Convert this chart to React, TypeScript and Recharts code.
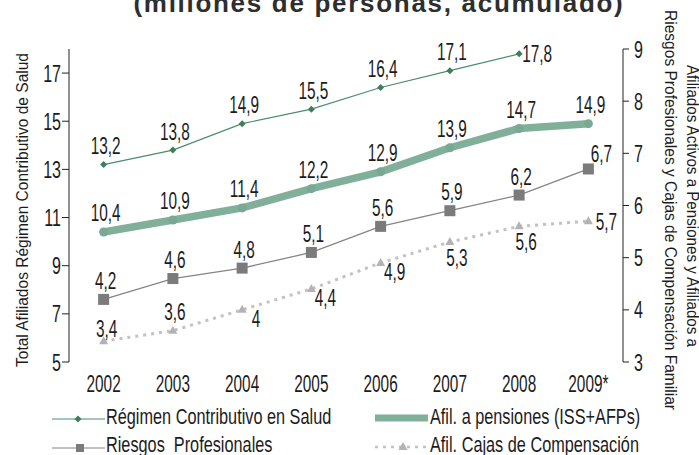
import React from 'react'
import { LineChart, Line, XAxis, YAxis, Legend, LabelList, Customized } from 'recharts'

const YEARS = ['2002', '2003', '2004', '2005', '2006', '2007', '2008', '2009*']
const REGIMEN = [13.2, 13.8, 14.9, 15.5, 16.4, 17.1, 17.8, null]
const PENSIONES = [10.4, 10.9, 11.4, 12.2, 12.9, 13.9, 14.7, 14.9]
const RIESGOS = [4.2, 4.6, 4.8, 5.1, 5.6, 5.9, 6.2, 6.7]
const CAJAS = [3.4, 3.6, 4, 4.4, 4.9, 5.3, 5.6, 5.7]
const LEFT_TICKS = [5, 7, 9, 11, 13, 15, 17]
const RIGHT_TICKS = [3, 4, 5, 6, 7, 8, 9]

const data = YEARS.map((year, i) => ({
  x: i + 0.5,
  year,
  regimen: REGIMEN[i],
  pensiones: PENSIONES[i],
  riesgos: RIESGOS[i],
  cajas: CAJAS[i],
}))
const EDGE_TICKS = [...YEARS.map((_, i) => i), YEARS.length]
const MID_TICKS = YEARS.map((_, i) => i + 0.5)

const FONT = "'Liberation Sans', Arial, sans-serif"
const INK = '#1c1c1c'
const C_REGIMEN = '#4d8d6e'
const C_PENS = '#80b09a'
const C_RIESGOS = '#858585'
const C_CAJAS = '#c2c2c2'

// where each value label sits relative to its point
const OFFSETS: Record<string, [number, number]> = {
  above: [2, -19],
  aboveLow: [3, -13],
  aboveRight: [13, -15],
  right: [18, 0],
  below: [7, 15],
  belowRight: [14, 9],
}
const ALL_ABOVE = YEARS.map(() => 'above')
const REGIMEN_POS = ['above', 'above', 'above', 'above', 'above', 'above', 'right', 'above']
const RIESGOS_POS = ['above', 'above', 'above', 'above', 'above', 'above', 'above', 'aboveRight']
const CAJAS_POS = ['aboveLow', 'above', 'belowRight', 'belowRight', 'belowRight', 'below', 'below', 'right']

const fmt = (v: number) => String(v).replace('.', ',')

const makeLabel = (pos: string[]) => (props: any) => {
  const { value, index } = props
  if (value == null) return null
  const x = props.x ?? props.viewBox?.x
  const y = props.y ?? props.viewBox?.y
  const [dx, dy] = OFFSETS[pos[index]] || OFFSETS.above
  return (
    <text
      transform={`translate(${x + dx},${y + dy}) scale(0.64,1)`}
      textAnchor="middle"
      dy={8.5}
      fontSize={24}
      fontFamily={FONT}
      fill={INK}
    >
      {fmt(value)}
    </text>
  )
}

const Diamond = ({ cx, cy }: any) =>
  cy == null ? null : (
    <path d={`M${cx},${cy - 3.5}L${cx + 3.5},${cy}L${cx},${cy + 3.5}L${cx - 3.5},${cy}Z`} fill="#3f7d5f" />
  )
const Square = ({ cx, cy }: any) => <rect x={cx - 5.5} y={cy - 5.5} width={11} height={11} fill="#7b7b7b" />
const Triangle = ({ cx, cy }: any) => (
  <path d={`M${cx},${cy - 5}L${cx + 4.5},${cy + 3}L${cx - 4.5},${cy + 3}Z`} fill="#b3b3b3" />
)

const LeftTick = ({ x, y, payload }: any) => (
  <text transform={`translate(${x},${y}) scale(0.67,1)`} textAnchor="end" dy={8.5} fontSize={24} fontFamily={FONT} fill={INK}>
    {payload.value}
  </text>
)
const RightTick = ({ x, y, payload }: any) => (
  <text transform={`translate(${x},${y}) scale(0.67,1)`} textAnchor="start" dy={8.5} fontSize={24} fontFamily={FONT} fill={INK}>
    {payload.value}
  </text>
)
const YearTick = ({ x, y, payload }: any) => (
  <text transform={`translate(${x},${y}) scale(0.64,1)`} textAnchor="middle" dy={22} fontSize={24} fontFamily={FONT} fill={INK}>
    {YEARS[Math.floor(payload.value)]}
  </text>
)

const LegendText = ({ x, y, children }: any) => (
  <text transform={`translate(${x},${y}) scale(0.74,1)`} fontSize={22} fontFamily={FONT} fill={INK} style={{ whiteSpace: 'pre' }}>
    {children}
  </text>
)

const LegendBox = () => (
  <svg width={699} height={60} style={{ overflow: 'visible', display: 'block' }}>
    <line x1={52} y1={24} x2={105} y2={24} stroke={C_REGIMEN} strokeWidth={1.2} />
    <Diamond cx={78} cy={24} />
    <LegendText x={106} y={29}>Régimen Contributivo en Salud</LegendText>
    <line x1={375} y1={23} x2={428} y2={23} stroke={C_PENS} strokeWidth={7} />
    <LegendText x={430} y={29}>Afil. a pensiones (ISS+AFPs)</LegendText>
    <line x1={52} y1={53} x2={105} y2={53} stroke={C_RIESGOS} strokeWidth={1.2} />
    <rect x={76} y={49} width={8} height={8} fill="#7b7b7b" />
    <LegendText x={106} y={57}>Riesgos  Profesionales</LegendText>
    <line x1={375} y1={52} x2={428} y2={52} stroke={C_CAJAS} strokeWidth={2.5} strokeDasharray="3 5" />
    <Triangle cx={403} cy={52} />
    <LegendText x={430} y={57}>Afil. Cajas de Compensación</LegendText>
  </svg>
)

const Titles = () => (
  <g fontFamily={FONT}>
    <text x={379} y={12} textAnchor="middle" fontSize={26} fontWeight="bold" letterSpacing={1.7} fill="#2e2e2e">
      (millones de personas, acumulado)
    </text>
    <text
      transform="translate(22,210) rotate(-90)"
      textAnchor="middle"
      dy={6}
      fontSize={17}
      fill={INK}
      textLength={314}
      lengthAdjust="spacingAndGlyphs"
    >
      Total Afiliados Régimen Contributivo de Salud
    </text>
    <text
      transform="translate(693,206) rotate(90)"
      textAnchor="middle"
      dy={6}
      fontSize={16}
      fill={INK}
      textLength={282}
      lengthAdjust="spacingAndGlyphs"
    >
      Afiliados Activos a Pensiones y Afiliados a
    </text>
    <text
      transform="translate(671,210) rotate(90)"
      textAnchor="middle"
      dy={6}
      fontSize={16}
      fill={INK}
      textLength={400}
      lengthAdjust="spacingAndGlyphs"
    >
      Riesgos Profesionales y Cajas de Compensación Familiar
    </text>
  </g>
)

export default function App() {
  return (
    <div style={{ position: 'absolute', left: 0, top: 0, background: '#fff' }}>
      <LineChart width={699} height={455} data={data} margin={{ top: 49, right: 0, bottom: 0, left: 0 }}>
        <XAxis
          type="number"
          dataKey="x"
          domain={[0, YEARS.length]}
          ticks={EDGE_TICKS}
          interval={0}
          tick={false}
          tickSize={6}
          height={0}
          stroke="#222"
        />
        <XAxis
          xAxisId="labels"
          type="number"
          dataKey="x"
          domain={[0, YEARS.length]}
          ticks={MID_TICKS}
          interval={0}
          axisLine={false}
          tickLine={false}
          tick={<YearTick />}
          height={33}
        />
        <YAxis
          yAxisId="left"
          domain={[5, 18]}
          ticks={LEFT_TICKS}
          interval={0}
          width={69}
          tickSize={7}
          tickMargin={1}
          tick={<LeftTick />}
          stroke="#222"
        />
        <YAxis
          yAxisId="right"
          orientation="right"
          domain={[3, 9]}
          ticks={RIGHT_TICKS}
          interval={0}
          width={76}
          tickSize={6}
          tickMargin={5}
          tick={<RightTick />}
          stroke="#222"
        />
        <Line
          yAxisId="left"
          dataKey="pensiones"
          stroke={C_PENS}
          strokeWidth={7.5}
          strokeLinecap="round"
          dot={{ r: 4.5, fill: '#79a994', stroke: 'none' }}
          isAnimationActive={false}
        >
          <LabelList dataKey="pensiones" content={makeLabel(ALL_ABOVE)} />
        </Line>
        <Line
          yAxisId="right"
          dataKey="cajas"
          stroke={C_CAJAS}
          strokeWidth={3}
          strokeDasharray="3 5"
          dot={(p: any) => <Triangle key={p.index} {...p} />}
          isAnimationActive={false}
        >
          <LabelList dataKey="cajas" content={makeLabel(CAJAS_POS)} />
        </Line>
        <Line
          yAxisId="right"
          dataKey="riesgos"
          stroke={C_RIESGOS}
          strokeWidth={1.3}
          dot={(p: any) => <Square key={p.index} {...p} />}
          isAnimationActive={false}
        >
          <LabelList dataKey="riesgos" content={makeLabel(RIESGOS_POS)} />
        </Line>
        <Line
          yAxisId="left"
          dataKey="regimen"
          stroke={C_REGIMEN}
          strokeWidth={1.2}
          dot={(p: any) => <Diamond key={p.index} {...p} />}
          isAnimationActive={false}
        >
          <LabelList dataKey="regimen" content={makeLabel(REGIMEN_POS)} />
        </Line>
        <Legend content={<LegendBox />} width={699} height={60} wrapperStyle={{ left: 0, bottom: 0, width: 699, height: 60 }} />
        <Customized component={<Titles />} />
      </LineChart>
    </div>
  )
}
